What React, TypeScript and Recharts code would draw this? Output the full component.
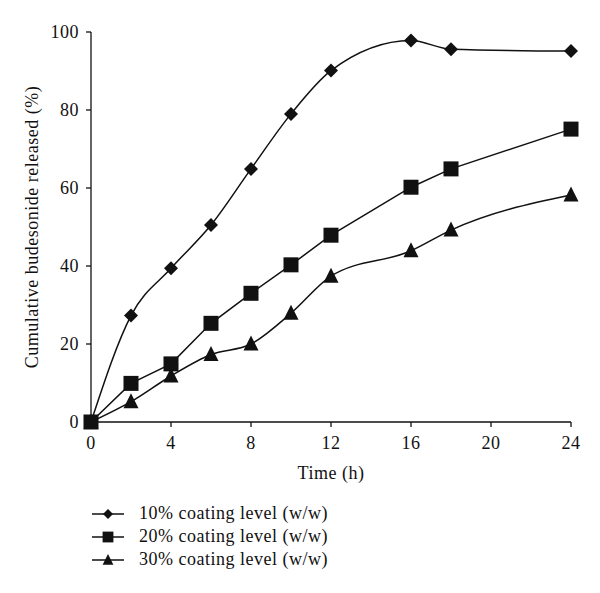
// Cumulative budesonide release vs time, three coating levels
import React from "react";
import { LineChart, Line, XAxis, YAxis, Label } from "recharts";

const hours = [0, 2, 4, 6, 8, 10, 12, 16, 18, 24];
const coating10 = [0, 27.3, 39.4, 50.5, 64.9, 79, 90.1, 97.8, 95.6, 95.1];
const coating20 = [0, 9.9, 14.9, 25.3, 33, 40.3, 47.9, 60.2, 64.9, 75.1];
const coating30 = [0, 5.2, 11.8, 17.3, 20, 27.9, 37.4, 43.9, 49.2, 58.2];
const seriesNames = ["10% coating level (w/w)", "20% coating level (w/w)", "30% coating level (w/w)"];
const xTicks = [0, 4, 8, 12, 16, 20, 24];
const yTicks = [0, 20, 40, 60, 80, 100];

const FONT = "'Liberation Serif', 'DejaVu Serif', serif";
const INK = "#111";
const SPACING = "0.5px";

const data = hours.map((h, i) => ({
    h,
    c10: coating10[i],
    c20: coating20[i],
    c30: coating30[i],
}));

type Shape = "diamond" | "square" | "triangle";

const Marker = ({ shape, cx, cy, s = 1 }: { shape: Shape; cx: number; cy: number; s?: number }) => {
    if (cx == null || cy == null) return null;
    if (shape === "diamond") {
        const r = 7 * s;
        return <path d={`M${cx},${cy - r}L${cx + r},${cy}L${cx},${cy + r}L${cx - r},${cy}Z`} fill={INK} />;
    }
    if (shape === "square") {
        const r = 7.5 * s;
        return <rect x={cx - r} y={cy - r} width={r * 2} height={r * 2} fill={INK} />;
    }
    const r = 7.5 * s;
    return <path d={`M${cx},${cy - r - s}L${cx + r},${cy + r - s}L${cx - r},${cy + r - s}Z`} fill={INK} />;
};

const dotFor = (shape: Shape) => (p: any) => (
    <Marker key={`${shape}-${p.index}`} shape={shape} cx={p.cx} cy={p.cy} />
);

const shapes: Shape[] = ["diamond", "square", "triangle"];

const LegendBlock = () => (
    <div style={{ position: "absolute", left: 90, top: 502, fontFamily: FONT, fontSize: 18, letterSpacing: SPACING, color: INK }}>
        {seriesNames.map((name, i) => (
            <div key={name} style={{ display: "flex", alignItems: "center", height: 23 }}>
                <svg width={36} height={20} style={{ marginRight: 13 }}>
                    <line x1={2} y1={10} x2={34} y2={10} stroke={INK} strokeWidth={1.5} />
                    <Marker shape={shapes[i]} cx={18} cy={10} s={0.72} />
                </svg>
                <span>{name}</span>
            </div>
        ))}
    </div>
);

export default function App() {
    const tickStyle = { fill: INK, fontSize: 18, fontFamily: FONT, letterSpacing: SPACING };
    const labelStyle = { fill: INK, fontSize: 18, fontFamily: FONT, letterSpacing: SPACING };
    return (
        <div style={{ position: "absolute", left: 0, top: 0, width: 600, height: 593, background: "#fff" }}>
            <LineChart width={600} height={593} data={data} margin={{ top: 32, right: 29, left: 31, bottom: 141 }}>
                <XAxis
                    dataKey="h"
                    type="number"
                    domain={[0, 24]}
                    ticks={xTicks}
                    height={30}
                    tick={tickStyle}
                    tickSize={5}
                    tickMargin={9}
                    stroke={INK}
                    strokeWidth={1.3}
                >
                    <Label value="Time (h)" position="bottom" offset={14} style={labelStyle} />
                </XAxis>
                <YAxis
                    type="number"
                    domain={[0, 100]}
                    ticks={yTicks}
                    width={60}
                    tick={tickStyle}
                    tickSize={5}
                    tickMargin={7}
                    stroke={INK}
                    strokeWidth={1.3}
                >
                    <Label
                        value="Cumulative budesonide released (%)"
                        angle={-90}
                        position="insideLeft"
                        offset={1}
                        style={{ ...labelStyle, textAnchor: "middle" }}
                    />
                </YAxis>
                <Line dataKey="c30" type="monotone" stroke={INK} strokeWidth={1.5} dot={dotFor("triangle")} isAnimationActive={false} />
                <Line dataKey="c10" type="monotone" stroke={INK} strokeWidth={1.5} dot={dotFor("diamond")} isAnimationActive={false} />
                <Line dataKey="c20" type="linear" stroke={INK} strokeWidth={1.5} dot={dotFor("square")} isAnimationActive={false} />
            </LineChart>
            <LegendBlock />
        </div>
    );
}
